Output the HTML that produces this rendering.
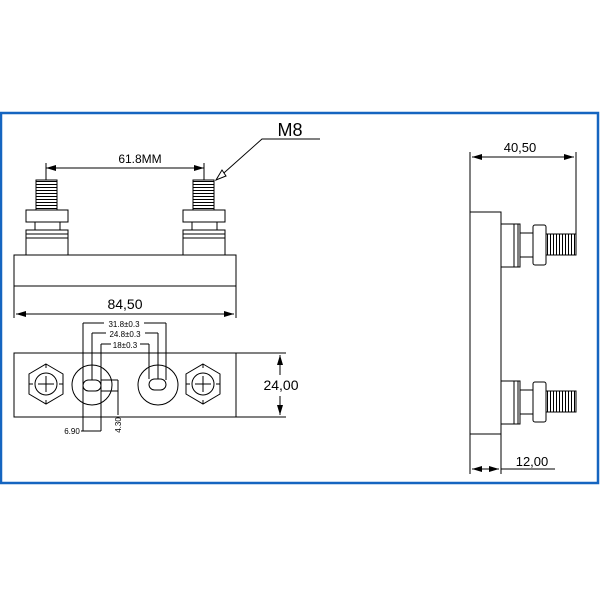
<!DOCTYPE html>
<html><head><style>body{margin:0;background:#fff}svg{display:block}</style></head><body>
<svg width="600" height="600" viewBox="0 0 600 600" xmlns="http://www.w3.org/2000/svg" font-family="Liberation Sans, sans-serif">
<defs>
<marker id="a" viewBox="0 0 10 6" refX="10" refY="3" markerWidth="10" markerHeight="6" orient="auto-start-reverse" markerUnits="userSpaceOnUse"><path d="M0,0L10,3L0,6z" fill="#000"/></marker>
<pattern id="th" width="3" height="3" patternUnits="userSpaceOnUse"><line x1="0" y1="1.5" x2="3" y2="1.5" stroke="#000" stroke-width="1"/></pattern>
<pattern id="tv" width="3" height="3" patternUnits="userSpaceOnUse"><line x1="1.5" y1="0" x2="1.5" y2="3" stroke="#000" stroke-width="1"/></pattern>
</defs>
<rect x="1" y="113" width="597" height="370" fill="none" stroke="#1565c0" stroke-width="2.5"/>
<g stroke="#000" stroke-width="1" fill="none">
<!-- front view -->
<rect x="14" y="255" width="222" height="31"/>
<g id="stud">
<rect x="36" y="180" width="21" height="30" fill="url(#th)"/>
<rect x="26" y="210" width="42" height="12"/>
<rect x="35" y="222" width="25" height="8"/>
<rect x="26" y="230" width="42" height="25"/>
<line x1="26" y1="234" x2="68" y2="234"/><line x1="26" y1="238" x2="68" y2="238"/>
</g>
<use href="#stud" x="157"/>
<line x1="46" y1="163" x2="46" y2="180"/><line x1="204" y1="163" x2="204" y2="180"/>
<line x1="46" y1="168" x2="204" y2="168" marker-start="url(#a)" marker-end="url(#a)"/>
<polyline points="320,139 262,139 216,180"/>
<path d="M216,180 L222,170 L226,176 Z" fill="#fff"/>
<line x1="14" y1="286" x2="14" y2="318"/><line x1="236" y1="286" x2="236" y2="318"/>
<line x1="16" y1="314" x2="234" y2="314" marker-start="url(#a)" marker-end="url(#a)"/>
<!-- bottom view -->
<rect x="14" y="353" width="222" height="64"/>
<line x1="236" y1="353" x2="286" y2="353"/><line x1="236" y1="417" x2="286" y2="417"/>
<line x1="280" y1="355" x2="280" y2="375" marker-start="url(#a)"/>
<line x1="280" y1="396" x2="280" y2="415" marker-end="url(#a)"/>
<g id="hex">
<polygon points="46,364 63,374 63,394 46,404 29,394 29,374"/>
<circle cx="46" cy="384" r="11"/>
<line x1="38" y1="384" x2="54" y2="384"/><line x1="46" y1="376" x2="46" y2="392"/>
<line x1="46" y1="364" x2="46" y2="368"/><line x1="46" y1="400" x2="46" y2="404"/>
<line x1="29" y1="384" x2="33" y2="384"/><line x1="59" y1="384" x2="63" y2="384"/>
</g>
<use href="#hex" x="157"/>
<circle cx="92" cy="385" r="20"/><circle cx="158" cy="385" r="20"/>
<rect x="83" y="380" width="18" height="11" rx="5.5"/>
<rect x="149" y="379" width="17" height="11" rx="5.5"/>
<line x1="83" y1="323" x2="83" y2="431"/><line x1="101" y1="344" x2="101" y2="431"/>
<line x1="92" y1="333" x2="92" y2="380"/>
<line x1="166" y1="323" x2="166" y2="380"/><line x1="158" y1="333" x2="158" y2="379"/><line x1="149" y1="344" x2="149" y2="379"/>
<line x1="83" y1="323" x2="104" y2="323"/><line x1="144" y1="323" x2="166" y2="323"/>
<line x1="92" y1="333" x2="106" y2="333"/><line x1="145" y1="333" x2="158" y2="333"/>
<line x1="101" y1="344" x2="111" y2="344"/><line x1="140" y1="344" x2="149" y2="344"/>
<line x1="81" y1="431" x2="101" y2="431"/>
<line x1="101" y1="380" x2="118" y2="380"/><line x1="101" y1="391" x2="118" y2="391"/>
<line x1="118" y1="380" x2="118" y2="415"/>
<!-- side view -->
<rect x="470" y="212" width="31" height="222"/>
<line x1="470" y1="152" x2="470" y2="212"/><line x1="576" y1="152" x2="576" y2="234"/>
<line x1="472" y1="157" x2="574" y2="157" marker-start="url(#a)" marker-end="url(#a)"/>
<g id="sstud">
<rect x="501" y="224" width="19" height="43"/>
<line x1="514" y1="224" x2="514" y2="267"/><line x1="518" y1="224" x2="518" y2="267"/>
<rect x="520" y="233" width="13" height="24"/>
<rect x="533" y="225" width="13" height="40" rx="2"/>
<rect x="546" y="234" width="30" height="21" fill="url(#tv)"/>
</g>
<use href="#sstud" y="157"/>
<line x1="470" y1="434" x2="470" y2="474"/><line x1="501" y1="434" x2="501" y2="474"/>
<line x1="472" y1="469" x2="499" y2="469" marker-start="url(#a)" marker-end="url(#a)"/>
<line x1="501" y1="469" x2="555" y2="469"/>
</g>
<g font-size="12" fill="#000" text-anchor="middle">
<text x="140" y="163">61.8MM</text>
<text x="290" y="136" font-size="18">M8</text>
<text x="125" y="309" font-size="14">84,50</text>
<text x="124" y="327" font-size="8">31.8±0.3</text>
<text x="125" y="337" font-size="8">24.8±0.3</text>
<text x="125" y="348" font-size="8">18±0.3</text>
<text x="72" y="434" font-size="8">6.90</text>
<text transform="translate(121,425) rotate(-90)" font-size="8">4.30</text>
<text x="281" y="390" font-size="14">24,00</text>
<text x="520" y="152" font-size="13">40,50</text>
<text x="532" y="466" font-size="13">12,00</text>
</g>
</svg>
</body></html>
